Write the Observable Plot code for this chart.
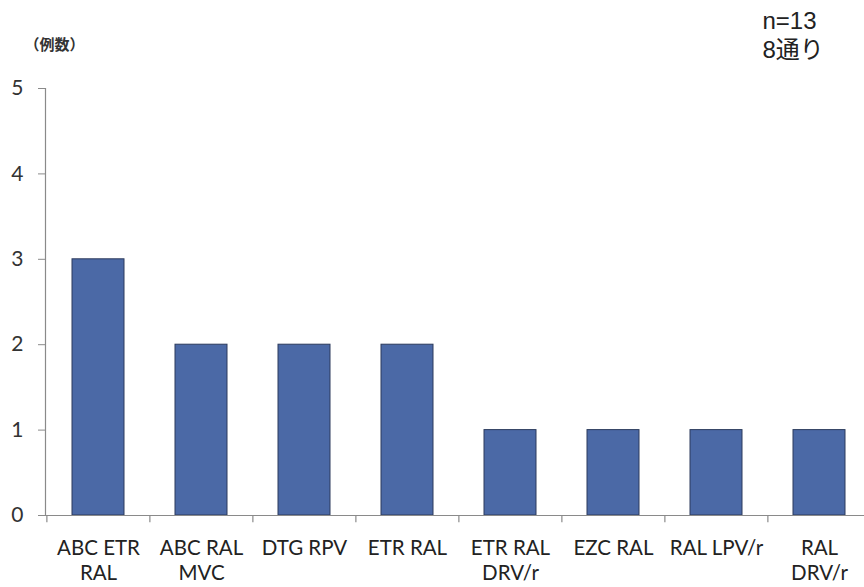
<!DOCTYPE html>
<html>
<head>
<meta charset="utf-8">
<script src="https://cdn.jsdelivr.net/npm/d3@7"></script>
<script src="https://cdn.jsdelivr.net/npm/@observablehq/plot@0.6"></script>
<style>
  html, body { margin: 0; padding: 0; background: #fff; }
  #chart svg { display: block; overflow: visible; }
</style>
</head>
<body>
<div id="chart"></div>
<script>
// Regimen combinations and number of cases for each
const regimens = [
  "ABC ETR\nRAL",
  "ABC RAL\nMVC",
  "DTG RPV",
  "ETR RAL",
  "ETR RAL\nDRV/r",
  "EZC RAL",
  "RAL LPV/r",
  "RAL\nDRV/r"
];
const cases = [3, 2, 2, 2, 1, 1, 1, 1];
const yTicks = [0, 1, 2, 3, 4, 5];
const yUnitLabel = "（例数）";
const noteLines = ["n=13", "8通り"];

const data = regimens.map((r, i) => ({regimen: r, count: cases[i]}));

const W = 864, H = 587;
const xRange = [45, 871];
const bandStep = (xRange[1] - xRange[0]) / regimens.length;
const font = "Lato, 'Open Sans', 'Noto Sans CJK JP', sans-serif";
const axisGray = "#8a8a8a";

const chart = Plot.plot({
  width: W,
  height: H,
  marginLeft: 45,
  marginRight: 0,
  marginTop: 88,
  marginBottom: 72,
  style: {fontFamily: font, background: "#fff", overflow: "visible"},
  x: {domain: regimens, range: xRange, paddingInner: 0.5, paddingOuter: 0.25, align: 0.5},
  y: {domain: [0, 5], range: [515, 88]},
  marks: [
    // bars
    Plot.barY(data, {x: "regimen", y: "count", fill: "#4b69a6", stroke: "#2c3b5c", strokeWidth: 1}),
    // value axis line
    Plot.frame({anchor: "left", stroke: axisGray, strokeWidth: 1.2}),
    // baseline
    Plot.ruleY([0], {stroke: axisGray, strokeWidth: 1.2}),
    // y ticks and labels
    Plot.axisY({ticks: yTicks, tickFormat: "d", tickSize: 7, tickPadding: 15, fontSize: 21, fill: "#333", stroke: axisGray, label: null}),
    // category boundary ticks below the baseline
    Plot.ruleX(regimens, {x: d => d, dx: -bandStep / 2, y1: 0, y2: -0.085, stroke: axisGray, strokeWidth: 1.2}),
    // category labels
    Plot.axisX({tickSize: 0, tickPadding: 22, fontSize: 20.5, fill: "#222", lineHeight: 1.2, label: null}),
    // unit label above the value axis
    Plot.text([yUnitLabel], {frameAnchor: "top-left", dx: 9, dy: -43, lineAnchor: "middle", text: d => d, fontSize: 15, fontWeight: "bold", fill: "#333", textAnchor: "middle"}),
    // sample note
    Plot.text([noteLines.join("\n")], {frameAnchor: "top-left", dx: 717, dy: -54, lineAnchor: "middle", lineHeight: 1.2, text: d => d, fontSize: 24, fill: "#222", textAnchor: "start", fontFamily: "'Liberation Sans', 'Noto Sans CJK JP', sans-serif"})
  ]
});

document.getElementById("chart").appendChild(chart);
</script>
</body>
</html>
